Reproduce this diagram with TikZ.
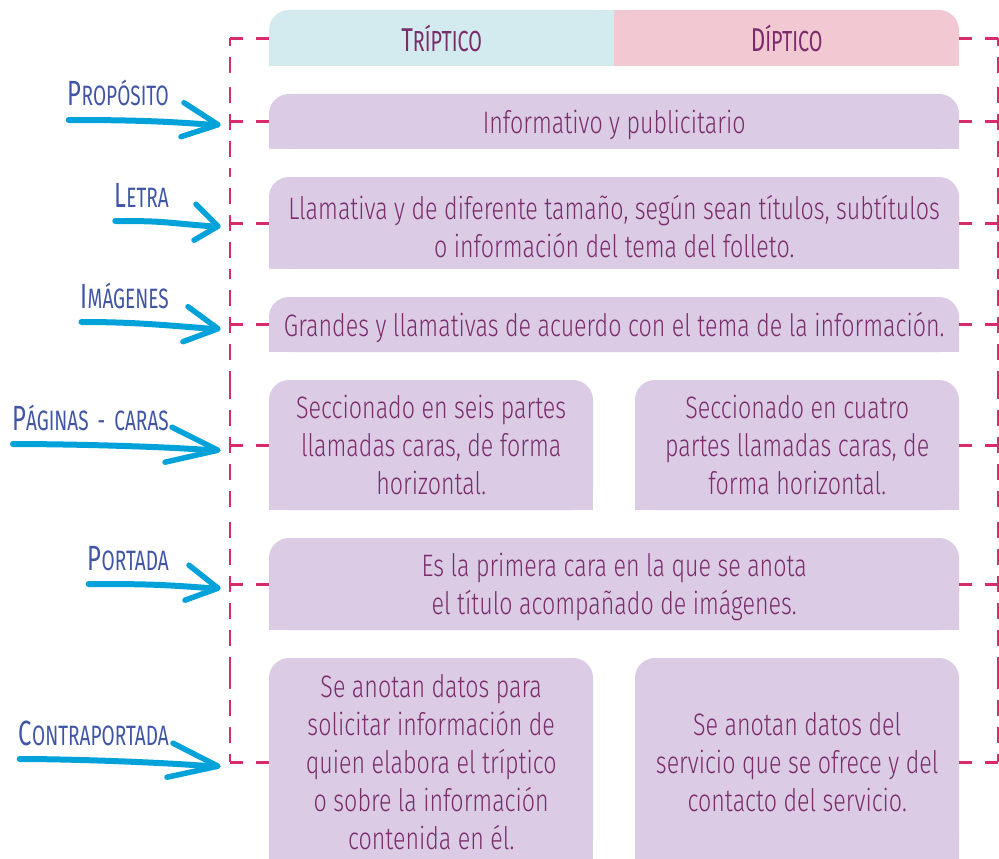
\documentclass[tikz,border=0pt]{standalone}
\usepackage{fontspec}
\setmainfont{Fira Sans}[FakeStretch=0.68]
\newfontfamily\bodyff{Fira Sans}[UprightFont=* Light, FakeStretch=0.75]
\usetikzlibrary{calc}
\definecolor{lav}{RGB}{219,203,228}
\definecolor{hcyan}{RGB}{211,235,238}
\definecolor{hpink}{RGB}{242,200,210}
\definecolor{dashc}{RGB}{214,44,110}
\definecolor{arrc}{RGB}{0,162,217}
\definecolor{labc}{RGB}{64,86,165}
\definecolor{txtc}{RGB}{122,44,108}
\newcommand\bodyfont{\bodyff\fontsize{31}{37.8}\selectfont}
\newcommand\sclab[2]{{\fontsize{35}{35}\selectfont #1}{\fontsize{28}{28}\selectfont #2}}
\newcommand\schead[2]{{\fontsize{33}{33}\selectfont #1}{\fontsize{29}{29}\selectfont #2}}
\newcommand\topround[5]{%
  \fill[#1,rounded corners=20pt] (#2,#3) rectangle (#4,#5);
  \fill[#1] (#2,{#5-20}) rectangle ({#2+20},#5);
  \fill[#1] ({#4-20},{#5-20}) rectangle (#4,#5);}
\newcommand\brush[6]{%
  \draw[brush] ([shift={(1,14)}]#1.base west) .. controls +(50,0) and +(-50,-4) .. ([shift={(-8,0)}]#2);
  \draw[brushhead] ([shift={(#3,#4)}]#2) -- (#2) -- ([shift={(#5,#6)}]#2);}
\begin{document}
\begin{tikzpicture}[x=1pt,y=-1pt,
  box/.style={anchor=north west, inner sep=0pt, text=txtc, align=center, font=\bodyfont},
  lab/.style={anchor=base east, inner sep=0pt, text=labc},
  tick/.style={draw=dashc, line width=2.8pt, dash pattern=on 13pt off 13pt},
  spine/.style={draw=dashc, line width=2.8pt, dash pattern=on 16pt off 11pt, dash phase=8pt},
  brush/.style={draw=arrc, line cap=round, line join=round, line width=6pt},
  brushhead/.style={draw=arrc, line cap=round, line join=round, line width=5.5pt}]
\useasboundingbox (0,0) rectangle (999,859);
% header fills
\fill[hcyan,rounded corners=20pt] (269,10) rectangle (614,66);
\fill[hcyan] (269,46) rectangle (289,66);
\fill[hcyan] (594,10) rectangle (614,66);
\fill[hpink,rounded corners=20pt] (614,10) rectangle (959,66);
\fill[hpink] (614,10) rectangle (634,66);
\fill[hpink] (939,46) rectangle (959,66);
% body fills
\topround{lav}{269}{94}{959}{149}
\topround{lav}{269}{177}{959}{269}
\topround{lav}{269}{297}{959}{352}
\topround{lav}{269}{380}{593}{510}
\topround{lav}{635}{380}{959}{510}
\topround{lav}{269}{538}{959}{630}
\topround{lav}{269}{658}{593}{859}
\topround{lav}{635}{658}{959}{859}
% text nodes
\node[box, font=\normalfont, minimum width=345pt, minimum height=56pt] (trip) at (269,10) {\schead{T}{RÍPTICO}};
\node[box, font=\normalfont, minimum width=345pt, minimum height=56pt] (dip) at (614,10) {\schead{D}{ÍPTICO}};
\node[box, yshift=-3pt, minimum width=690pt, minimum height=55pt] (r1) at (269,94) {Informativo y publicitario};
\node[box, yshift=-3pt, minimum width=690pt, minimum height=92pt] (r2) at (269,177) {Llamativa y de diferente tamaño, según sean títulos, subtítulos\\o información del tema del folleto.};
\node[box, yshift=-3pt, minimum width=690pt, minimum height=55pt] (r3) at (269,297) {Grandes y llamativas de acuerdo con el tema de la información.};
\node[box, minimum width=324pt, minimum height=130pt] (r4a) at (269,380) {Seccionado en seis partes\\llamadas caras, de forma\\horizontal.};
\node[box, minimum width=324pt, minimum height=130pt] (r4b) at (635,380) {Seccionado en cuatro\\partes llamadas caras, de\\forma horizontal.};
\node[box, yshift=-3pt, minimum width=690pt, minimum height=92pt] (r5) at (269,538) {Es la primera cara en la que se anota\\el título acompañado de imágenes.};
\node[box, minimum width=324pt, minimum height=208pt] (r6a) at (269,658) {Se anotan datos para\\solicitar información de\\quien elabora el tríptico\\o sobre la información\\contenida en él.};
\node[box, minimum width=324pt, minimum height=208pt] (r6b) at (635,658) {Se anotan datos del\\servicio que se ofrece y del\\contacto del servicio.};
% spine coordinates
\path (trip.west) ++(-39,0) coordinate (L0);
\path (dip.east) ++(39,0) coordinate (R0);
\path (r1.west) ++(-39,-3) coordinate (L1);
\path (r1.east) ++(39,-3) coordinate (R1);
\path (r2.west) ++(-39,-3) coordinate (L2);
\path (r2.east) ++(39,-3) coordinate (R2);
\path (r3.west) ++(-39,-3) coordinate (L3);
\path (r3.east) ++(39,-3) coordinate (R3);
\path (r4a.west) ++(-39,0) coordinate (L4);
\path (r4b.east) ++(39,0) coordinate (R4);
\path (r5.west) ++(-39,-3) coordinate (L5);
\path (r5.east) ++(39,-3) coordinate (R5);
\path (r6a.west) ++(-39,0) coordinate (L6);
\path (r6b.east) ++(39,0) coordinate (R6);
% ticks
\draw[tick] (L0) -- (L0 -| trip.west);
\draw[tick] (R0) -- (R0 -| dip.east);
\draw[tick] (L1) -- (L1 -| r1.west);
\draw[tick] (R1) -- (R1 -| r1.east);
\draw[tick] (L2) -- (L2 -| r2.west);
\draw[tick] (R2) -- (R2 -| r2.east);
\draw[tick] (L3) -- (L3 -| r3.west);
\draw[tick] (R3) -- (R3 -| r3.east);
\draw[tick] (L4) -- (L4 -| r4a.west);
\draw[tick] (R4) -- (R4 -| r4b.east);
\draw[tick] (L5) -- (L5 -| r5.west);
\draw[tick] (R5) -- (R5 -| r5.east);
\draw[tick] (L6) -- (L6 -| r6a.west);
\draw[tick] (R6) -- (R6 -| r6b.east);
% spines
\foreach \a/\b in {0/1,1/2,2/3,3/4,4/5,5/6}{
  \draw[spine] (L\a) -- ($(L\a)!0.5!(L\b)$);
  \draw[spine] (L\b) -- ($(L\a)!0.5!(L\b)$);
  \draw[spine] (R\a) -- ($(R\a)!0.5!(R\b)$);
  \draw[spine] (R\b) -- ($(R\a)!0.5!(R\b)$);
}
% labels
\node[lab] (p1) at (169,106) {\sclab{P}{ROPÓSITO}};
\node[lab] (p2) at (169,207) {\sclab{L}{ETRA}};
\node[lab] (p3) at (169,308) {\sclab{I}{MÁGENES}};
\node[lab] (p4) at (169,430) {\sclab{P}{ÁGINAS\kern4pt\ -\ \kern4pt CARAS}};
\node[lab] (p5) at (169,570) {\sclab{P}{ORTADA}};
\node[lab] (p6) at (169,745) {\sclab{C}{ONTRAPORTADA}};
% arrow tips
\path (L1) ++(-12,3) coordinate (t1);
\path (L2) ++(-12,3) coordinate (t2);
\path (L3) ++(-12,4) coordinate (t3);
\path (L4) ++(-12,5) coordinate (t4);
\path (L5) ++(-12,4) coordinate (t5);
\path (L6) ++(-12,4) coordinate (t6);
\brush{p1}{t1}{-34}{-22}{-37}{12}
\brush{p2}{t2}{-22}{-22}{-24}{14}
\brush{p3}{t3}{-30}{-22}{-35}{13}
\brush{p4}{t4}{-46}{-23}{-53}{12}
\brush{p5}{t5}{-29}{-23}{-33}{12}
\brush{p6}{t6}{-45}{-23}{-51}{11}
\end{tikzpicture}
\end{document}
